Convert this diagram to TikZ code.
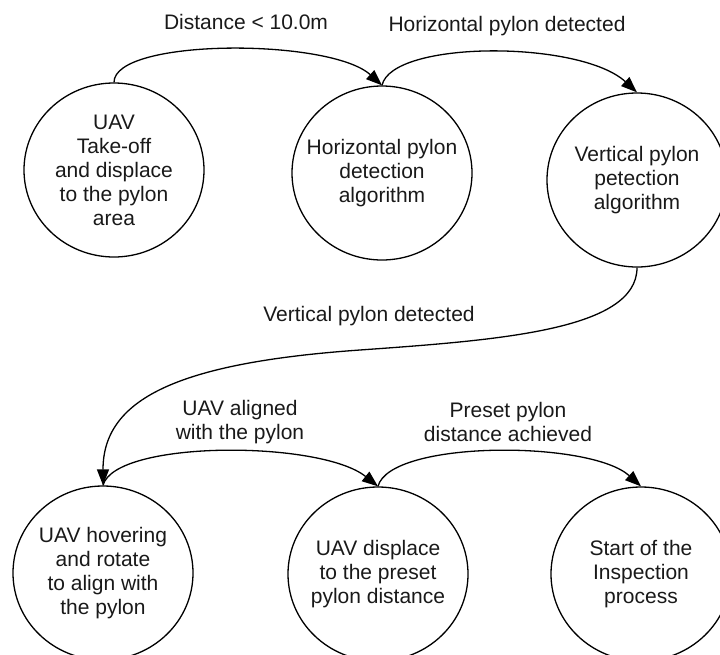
\documentclass[tikz,border=0pt]{standalone}
\usepackage{fontspec}
\setmainfont{Liberation Sans}
\usetikzlibrary{shapes.geometric,arrows.meta}
\begin{document}
\begin{tikzpicture}[x=1pt,y=-1pt,
  state/.style={draw=black,line width=1.3pt,ellipse,minimum width=180pt,minimum height=174pt,inner sep=0pt},
  lbl/.style={align=center,text=black!90,font=\fontsize{21}{24}\selectfont,inner sep=0pt},
  conn/.style={line width=1.3pt,-{Triangle[length=16pt,width=12pt]}}]
\useasboundingbox (0,0) rectangle (720,654);
\node[state] (c1) at (114,170) {};
\node[state] (c2) at (382,173) {};
\node[state] (c3) at (637,180) {};
\node[state] (c4) at (103,573) {};
\node[state] (c5) at (378,574) {};
\node[state] (c6) at (641,574) {};
\node[lbl] (t1) at (c1) {UAV\\Take-off\\and displace\\to the pylon\\area};
\node[lbl] (t2) at (c2) {Horizontal pylon\\detection\\algorithm};
\node[lbl] (t3) at (c3) {Vertical pylon\\petection\\algorithm};
\node[lbl] (t4) at (c4) {UAV hovering\\and rotate\\to align with\\the pylon};
\node[lbl] (t5) at (c5) {UAV displace\\to the preset\\pylon distance};
\node[lbl] (t6) at (c6) {Start of the\\Inspection\\process};
\node[lbl] (l1) at (246,22) {Distance < 10.0m};
\node[lbl] (l2) at (507,26) {Horizontal pylon detected};
\node[lbl] (l3) at (369,316) {Vertical pylon detected};
\node[lbl] (l4) at (240,422) {UAV aligned\\with the pylon};
\node[lbl] (l5) at (508,422) {Preset pylon\\distance achieved};
\draw[conn] (c1.north) .. controls (114,38) and (330,38) .. (c2.north);
\draw[conn] (c2.north) .. controls (392,40) and (580,40) .. (c3.north);
\draw[conn] (c3.south) .. controls (637,330) and (500,340) .. (360,350) .. controls (175,363) and (103,400) .. (c4.north);
\draw[conn] (c4.north) .. controls (115,440) and (320,440) .. (c5.north);
\draw[conn] (c5.north) .. controls (390,440) and (590,440) .. (c6.north);
\end{tikzpicture}
\end{document}
